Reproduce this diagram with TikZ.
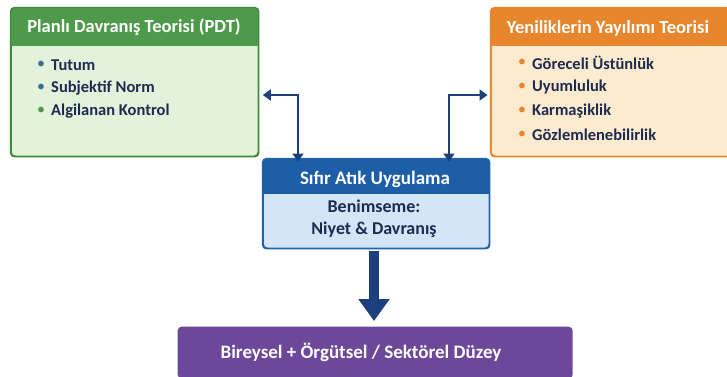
\documentclass[tikz,border=0pt]{standalone}
\usepackage{fontspec}
\setmainfont{Carlito}
\usetikzlibrary{arrows.meta}
\definecolor{ghead}{HTML}{4E9A4B}
\definecolor{gbody}{HTML}{E3F2DB}
\definecolor{gline}{HTML}{3F883C}
\definecolor{ohead}{HTML}{E8862E}
\definecolor{obody}{HTML}{FDEBD0}
\definecolor{oline}{HTML}{E3892F}
\definecolor{bhead}{HTML}{1C5EA8}
\definecolor{bbody}{HTML}{D3E5F6}
\definecolor{bline}{HTML}{1F63AD}
\definecolor{purp}{HTML}{6C479A}
\definecolor{navy}{HTML}{1D2B50}
\definecolor{arr}{HTML}{1D3F7C}
\definecolor{bulb}{HTML}{3C6E8E}
\tikzset{
  box/.style={rounded corners=4pt, line width=1.3pt, inner sep=0pt, anchor=north west},
  htext/.style={text=white, font=\bfseries\fontsize{18.5}{21}\selectfont},
  item/.style={text=navy, font=\bfseries\fontsize{16.5}{18}\selectfont, anchor=west, inner sep=0pt},
  bul/.style={font=\fontsize{16}{18}\selectfont, anchor=west, inner sep=0pt},
  link/.style={arr, line width=2.4pt, {Triangle[width=11pt,length=8pt]}-{Triangle[width=11pt,length=8pt]}},
}
\begin{document}
\begin{tikzpicture}[x=1pt,y=-1pt]
\useasboundingbox (0,0) rectangle (727,376);
% green box
\node (pdt) [box, draw=gline, fill=gbody, minimum width=247pt, minimum height=148pt] at (10.5,7.5) {};
\begin{scope}
\clip[rounded corners=4pt] (pdt.north west) rectangle (pdt.south east);
\fill[ghead] (pdt.north west) rectangle ++(247,38);
\end{scope}
\draw[gline, line width=1.3pt, rounded corners=4pt] (pdt.north west) rectangle (pdt.south east);
\node (pdtt) [htext] at (134,27) {Planlı Davranış Teorisi (PDT)};
\node (b1) [bul, text=bulb] at (37,65) {•};
\node (i1) [item] at (51,65) {Tutum};
\node (b2) [bul, text=bulb] at (37,88) {•};
\node (i2) [item] at (51,88) {Subjektif Norm};
\node (b3) [bul, text=ghead] at (37,111) {•};
\node (i3) [item] at (51,111) {Algilanan Kontrol};
% orange box
\node (dit) [box, draw=oline, fill=obody, minimum width=240pt, minimum height=148pt] at (490.5,7.5) {};
\begin{scope}
\clip[rounded corners=4pt] (dit.north west) rectangle (dit.south east);
\fill[ohead] (dit.north west) rectangle ++(240,38);
\end{scope}
\draw[oline, line width=1.3pt, rounded corners=4pt] (dit.north west) rectangle (dit.south east);
\node (ditt) [htext] at (608,28) {Yeniliklerin Yayılımı Teorisi};
\node (c1) [bul, text=ohead] at (518,63) {•};
\node (j1) [item] at (532,63) {Göreceli Üstünlük};
\node (c2) [bul, text=ohead] at (518,87) {•};
\node (j2) [item] at (532,87) {Uyumluluk};
\node (c3) [bul, text=ohead] at (518,111) {•};
\node (j3) [item] at (532,111) {Karmaşiklik};
\node (c4) [bul, text=ohead] at (518,135) {•};
\node (j4) [item] at (532,135) {Gözlemlenebilirlik};
% center box
\node (sau) [box, draw=bline, fill=bbody, minimum width=226pt, minimum height=89pt] at (262.5,158.5) {};
\begin{scope}
\clip[rounded corners=4pt] (sau.north west) rectangle (sau.south east);
\fill[bhead] (sau.north west) rectangle ++(226,35);
\end{scope}
\draw[bline, line width=1.3pt, rounded corners=4pt] (sau.north west) rectangle (sau.south east);
\node (saut) [text=white, font=\bfseries\fontsize{19}{21}\selectfont] at (375,179) {Sıfır Atık Uygulama};
\node (ben) [text=navy, font=\bfseries\fontsize{18}{22}\selectfont, align=center] at (374,219) {Benimseme:\\Niyet \& Davranış};
% purple box
\node (lev) [box, fill=purp, minimum width=395pt, minimum height=52pt] at (177,326) {};
\node (levt) [text=white, font=\bfseries\fontsize{19}{21}\selectfont] at (361,352) {Bireysel + Örgütsel / Sektörel Düzey};
% arrows
\coordinate (lc) at (298,95);
\coordinate (rc) at (449,95);
\draw[link] ([xshift=4pt]pdt.east |- lc) -- (lc) -- ([yshift=-3pt]lc |- sau.north);
\draw[link] ([xshift=-3pt]dit.west |- rc) -- (rc) -- ([yshift=-3pt]rc |- sau.north);
\draw[arr, line width=10pt, -{Triangle[width=30pt,length=22pt]}] ([yshift=-2pt]sau.south -| 374,0) -- (374,321);
\end{tikzpicture}
\end{document}
